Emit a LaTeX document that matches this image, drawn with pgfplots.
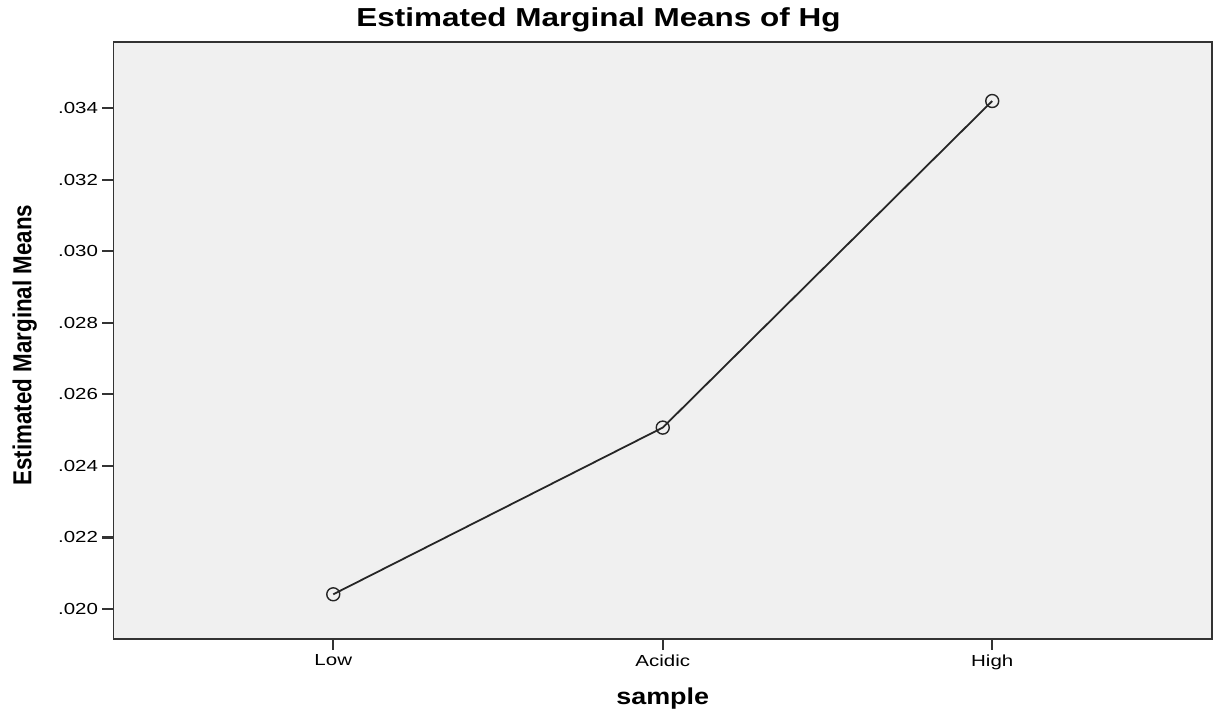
\documentclass[border=0pt]{standalone}
\usepackage{pgfplots}
\pgfplotsset{compat=1.18}
\usepackage{fontspec}
\setmainfont{Liberation Sans}
\definecolor{bgc}{RGB}{240,240,240}
\newcommand\W[1]{\scalebox{1.28}[1]{#1}}
\begin{document}
\begin{tikzpicture}
\begin{axis}[
  scale only axis,
  width=1098.5pt, height=597pt,
  xmin=-0.667, xmax=2.667,
  ymin=0.01916, ymax=0.03585,
  scaled y ticks=false,
  axis background/.style={fill=bgc},
  axis line style={line width=1.6pt, draw=black!80},
  xtick={0,1,2},
  xticklabels={\W{Low},\W{Acidic},\W{High}},
  ytick={0.020,0.022,0.024,0.026,0.028,0.030,0.032,0.034},
  yticklabels={\W{.020},\W{.022},\W{.024},\W{.026},\W{.028},\W{.030},\W{.032},\W{.034}},
  tick align=outside,
  major tick length=11pt,
  major tick style={line width=2.2pt, draw=black!80},
  xtick pos=bottom, ytick pos=left,
  ticklabel style={font=\fontsize{16}{18}\selectfont},
  xticklabel style={yshift=-1pt},
  yticklabel style={xshift=-1pt},
  title={\scalebox{1.21}[1]{\bfseries Estimated Marginal Means of Hg}},
  title style={font=\fontsize{26}{28}\selectfont, at={(rel axis cs:0.4415,1)}, anchor=base, yshift=9pt},
  xlabel={\scalebox{1.17}[1]{\bfseries sample}},
  xlabel style={font=\fontsize{23}{25}\selectfont, at={(rel axis cs:0.5,0)}, anchor=base, yshift=-66pt},
  ylabel={\scalebox{0.86}[1]{\bfseries Estimated Marginal Means}},
  ylabel style={font=\fontsize{26}{28}\selectfont, at={(rel axis cs:0,0.4925)}, anchor=base, yshift=82pt},
  clip=false,
]
\addplot[line width=1.8pt, black!85, mark=o, mark size=6.5pt, mark options={line width=1.4pt, fill=none}]
  coordinates {(0,0.02041) (1,0.02507) (2,0.0342)};
\end{axis}
\path[use as bounding box] (-113.5pt,-68pt) rectangle (1099.5pt,639pt);
\end{tikzpicture}
\end{document}
